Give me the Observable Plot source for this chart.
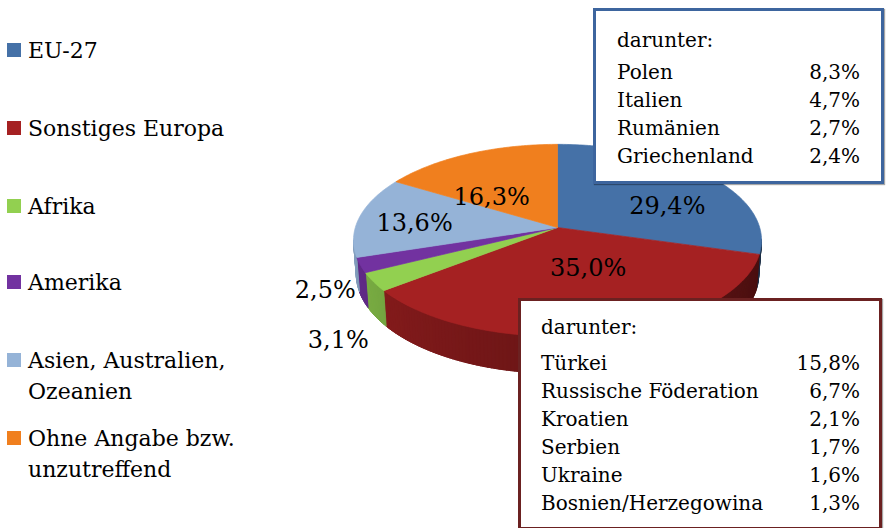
<!DOCTYPE html>
<html><head><meta charset="utf-8">
<script src="https://cdn.jsdelivr.net/npm/d3@7"></script>
<script src="https://cdn.jsdelivr.net/npm/@observablehq/plot@0.6"></script>
<style>
body{margin:0;background:#fff;font-family:"DejaVu Serif",serif;color:#000}
#wrap{position:relative;width:886px;height:528px;overflow:hidden;background:#fff}
#chart{position:absolute;left:0;top:0}
#chart svg text{font-family:"DejaVu Serif",serif}
.item{position:absolute;left:7px;font-size:22px;line-height:31px;white-space:nowrap}
.sw{position:absolute;left:0;top:8px;width:14px;height:14px}
.lbl{position:absolute;left:21px;top:0}
.box{position:absolute;background:#fff;box-sizing:border-box}
.t{position:absolute;font-size:20px;line-height:28px;white-space:nowrap}
</style></head>
<body>
<div id="wrap"><div id="chart"></div></div>
<script>
// ---- data ----
const categories = ["EU-27", "Sonstiges Europa", "Afrika", "Amerika", "Asien, Australien, Ozeanien", "Ohne Angabe bzw. unzutreffend"];
const legendLines = [["EU-27"], ["Sonstiges Europa"], ["Afrika"], ["Amerika"], ["Asien, Australien,", "Ozeanien"], ["Ohne Angabe bzw.", "unzutreffend"]];
const shares = [29.4, 35.0, 3.1, 2.5, 13.6, 16.3];
const colors = ["#4571a7", "#a52122", "#92d050", "#7232a0", "#95b3d7", "#f07f1e"];
const euCountries = ["Polen", "Italien", "Rumänien", "Griechenland"];
const euShares = [8.3, 4.7, 2.7, 2.4];
const otherCountries = ["Türkei", "Russische Föderation", "Kroatien", "Serbien", "Ukraine", "Bosnien/Herzegowina"];
const otherShares = [15.8, 6.7, 2.1, 1.7, 1.6, 1.3];
const boxHeading = "darunter:";

const fmt = v => d3.format(".1f")(v).replace(".", ",") + "%";

// ---- layout ----
const W = 886, H = 528, cx = 557, cy = 227, rPx = 204;
const phi = 27.8 * Math.PI / 180, D = 6.6, thick = 0.19;
const sn = Math.sin(phi), cs = Math.cos(phi);
function proj(X, Y, Z) { const dep = D + Z * cs - Y * sn; return [X * D / dep, (Y * cs + Z * sn) * D / dep]; }
const rim = (deg, Y, r = 1) => { const a = deg * Math.PI / 180; return proj(r * Math.sin(a), Y, r * Math.cos(a)); };
let maxX = 0;
for (let t = 0; t < 360; t += 0.25) maxX = Math.max(maxX, Math.abs(rim(t, 0)[0]));
const k = rPx / maxX;

const total = d3.sum(shares);
const bounds = [];
let acc = 0;
shares.forEach(v => { const a0 = acc / total * 360; acc += v; bounds.push([a0, acc / total * 360]); });

const shade = (col, deg) => {
  const f = Math.max(0.4, Math.min(0.9, 0.42 + 0.45 * (deg - 100) / 160));
  const c = d3.rgb(col); return d3.rgb(c.r * f, c.g * f, c.b * f).formatHex();
};
const visLimit = -1 / (D * cs);

const sides = [], tops = [];
let id = 0;
bounds.forEach(([a0, a1], i) => {
  const steps = Math.max(1, Math.ceil((a1 - a0) / 1));
  for (let j = 0; j < steps; j++) {
    const ta = a0 + (a1 - a0) * j / steps, tb = a0 + (a1 - a0) * (j + 1) / steps;
    const mid = (ta + tb) / 2;
    if (Math.cos(mid * Math.PI / 180) > visLimit + 0.03) continue;
    const col = shade(colors[i], mid);
    const ea = Math.max(a0, ta - 0.6), eb = Math.min(a1, tb + 0.6);
    const pts = [rim(ea, 0), rim(eb, 0), rim(eb, -thick), rim(ea, -thick), rim(ea, 0)];
    pts.forEach(([x, y]) => sides.push({ id, x, y, color: col }));
    id++;
  }
  const pts = [[0, 0]];
  for (let j = 0; j <= steps; j++) pts.push(rim(a0 + (a1 - a0) * j / steps, 0));
  pts.push([0, 0]);
  pts.forEach(([x, y]) => tops.push({ id, x, y, color: colors[i] }));
  id++;
});
const vtx = proj(0, 0, 0);

// labels
const inLabels = [], outLabels = [];
bounds.forEach(([a0, a1], i) => {
  const mid = (a0 + a1) / 2;
  if (shares[i] >= 5) {
    const [x, y] = rim(mid, 0, 0.72);
    inLabels.push({ x, y: vtx[1] + (y - vtx[1]) * 0.55, text: fmt(shares[i]) });
  } else {
    const [x, y] = rim(mid, -thick / 2);
    outLabels.push({ x: x - 6 / k, y: y - 8 / k, text: fmt(shares[i]) });
  }
});
outLabels.sort((a, b) => b.y - a.y);
for (let j = 1; j < outLabels.length; j++) outLabels[j].y = Math.min(outLabels[j].y, outLabels[j - 1].y - 50 / k);

const font = "'DejaVu Serif', serif";
const chart = Plot.plot({
  width: W, height: H, margin: 0,
  x: { domain: [(0 - cx) / k, (W - cx) / k], range: [0, W], axis: null },
  y: { domain: [cy / k, (cy - H) / k], range: [0, H], axis: null },
  color: { type: "identity" },
  style: { fontFamily: font, background: "transparent", color: "#000" },
  marks: [
    Plot.line(sides, { x: "x", y: "y", z: "id", fill: "color", stroke: "color", strokeWidth: 0.8 }),
    Plot.line(tops, { x: "x", y: "y", z: "id", fill: "color", stroke: "color", strokeWidth: 0.7 }),
    Plot.text(inLabels, { x: "x", y: "y", text: "text", fontSize: 24, fontFamily: font, fill: "#000" }),
    Plot.text(outLabels, { x: "x", y: "y", text: "text", fontSize: 24, fontFamily: font, fill: "#000", textAnchor: "end" })
  ]
});
const wrap = document.getElementById("wrap");
document.getElementById("chart").appendChild(chart);

// legend
const legendY = [50, 128, 206, 282, 360, 438];
categories.forEach((c, i) => {
  const d = document.createElement("div");
  d.className = "item"; d.style.top = (legendY[i] - 15.5) + "px";
  d.innerHTML = `<div class="sw" style="background:${colors[i]}"></div><div class="lbl">${legendLines[i].join("<br>")}</div>`;
  wrap.appendChild(d);
});

// boxes
function makeBox(left, top, w, h, border, names, vals, textLeft, valRight, headY, rowY0) {
  const b = document.createElement("div");
  b.className = "box";
  Object.assign(b.style, { left: left + "px", top: top + "px", width: w + "px", height: h + "px", border: `3px solid ${border}`, boxShadow: "1px 1px 1px rgba(0,0,0,0.35)" });
  wrap.appendChild(b);
  const add = (txt, y, x, right) => {
    const t = document.createElement("div");
    t.className = "t"; t.textContent = txt; t.style.top = (y - 14) + "px";
    if (right) t.style.right = (W - x) + "px"; else t.style.left = x + "px";
    wrap.appendChild(t);
  };
  add(boxHeading, headY, textLeft, false);
  names.forEach((n, i) => { add(n, rowY0 + 28 * i, textLeft, false); add(fmt(vals[i]), rowY0 + 28 * i, valRight, true); });
}
makeBox(593, 8, 291, 176, "#3d659e", euCountries, euShares, 617, 860, 40, 72);
makeBox(518, 298, 364, 232, "#6b2121", otherCountries, otherShares, 541, 860, 327, 363);
</script>
</body></html>
